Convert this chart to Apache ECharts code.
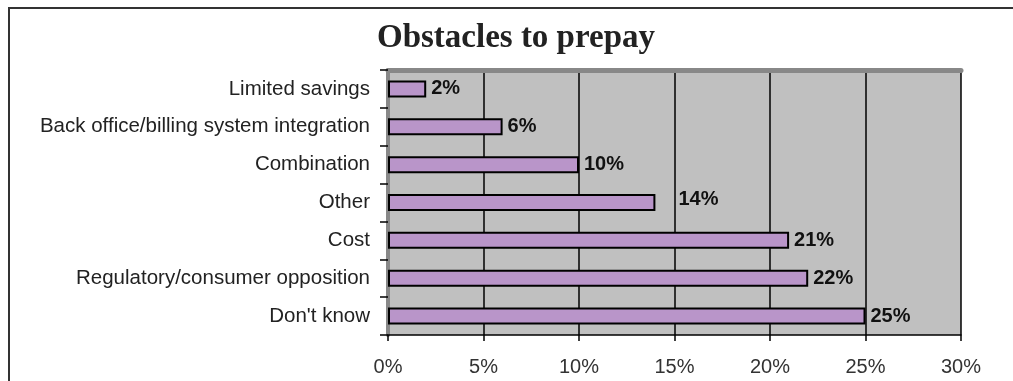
<!DOCTYPE html>
<html>
<head>
<meta charset="utf-8">
<script src="https://cdn.jsdelivr.net/npm/echarts@6/dist/echarts.min.js"></script>
<style>
  html, body { margin: 0; padding: 0; background: #fff; }
  #chart { width: 1013px; height: 381px; }
</style>
</head>
<body>
<div id="chart"></div>
<script>
const titleText = 'Obstacles to prepay';
const categories = ['Limited savings', 'Back office/billing system integration', 'Combination', 'Other', 'Cost', 'Regulatory/consumer opposition', "Don't know"];
const values = [2, 6, 10, 14, 21, 22, 25];
const xTicks = { min: 0, max: 30, interval: 5 };

const chart = echarts.init(document.getElementById('chart'));

const seriesData = values.map(function (v, i) {
  const item = { value: v };
  if (categories[i] === 'Other') {
    item.label = { offset: [18, -3] };
  }
  return item;
});

chart.setOption({
  animation: false,
  backgroundColor: '#ffffff',
  title: {
    text: titleText,
    left: 511,
    textAlign: 'center',
    top: 17,
    textStyle: {
      fontFamily: 'Liberation Serif',
      fontSize: 33,
      fontWeight: 'bold',
      color: '#222'
    }
  },
  graphic: [{
    type: 'rect',
    shape: { x: 9, y: 8, width: 1100, height: 400 },
    style: { fill: 'none', stroke: '#333', lineWidth: 2 },
    silent: true
  }],
  grid: {
    left: 388, right: 52, top: 70, bottom: 46,
    show: true,
    backgroundColor: '#c0c0c0',
    borderWidth: 0
  },
  xAxis: [{
    type: 'value',
    min: xTicks.min, max: xTicks.max, interval: xTicks.interval,
    axisLine: { show: true, lineStyle: { color: '#000', width: 1.5 } },
    axisTick: { show: true, length: 6, lineStyle: { color: '#000', width: 1.5 } },
    axisLabel: {
      formatter: '{value}%',
      fontFamily: 'Liberation Sans',
      fontSize: 20,
      color: '#333',
      margin: 22
    },
    splitLine: { show: true, lineStyle: { color: '#000', width: 1.5 } }
  }, {
    type: 'value',
    position: 'top',
    min: xTicks.min, max: xTicks.max, interval: xTicks.interval,
    axisLine: { show: true, lineStyle: { color: '#888', width: 5 } },
    axisTick: { show: false },
    axisLabel: { show: false },
    splitLine: { show: false }
  }],
  yAxis: [{
    type: 'category',
    data: categories,
    inverse: true,
    axisLine: { show: true, lineStyle: { color: '#000', width: 2 } },
    axisTick: { show: true, length: 8, lineStyle: { color: '#000', width: 1.5 } },
    axisLabel: {
      fontFamily: 'Liberation Sans',
      fontSize: 20.5,
      color: '#222',
      margin: 18
    }
  }, {
    type: 'category',
    data: categories,
    inverse: true,
    position: 'right',
    axisLine: { show: true, lineStyle: { color: '#888', width: 4 } },
    axisTick: { show: false },
    axisLabel: { show: false }
  }],
  series: [{
    type: 'bar',
    xAxisIndex: 0,
    yAxisIndex: 0,
    data: seriesData,
    barWidth: 17,
    itemStyle: {
      color: '#b995c9',
      borderColor: '#000',
      borderWidth: 2
    },
    label: {
      show: true,
      position: 'right',
      distance: 5,
      formatter: '{c}%',
      fontFamily: 'Liberation Sans',
      fontSize: 20,
      fontWeight: 'bold',
      color: '#111'
    }
  }]
});
</script>
</body>
</html>
